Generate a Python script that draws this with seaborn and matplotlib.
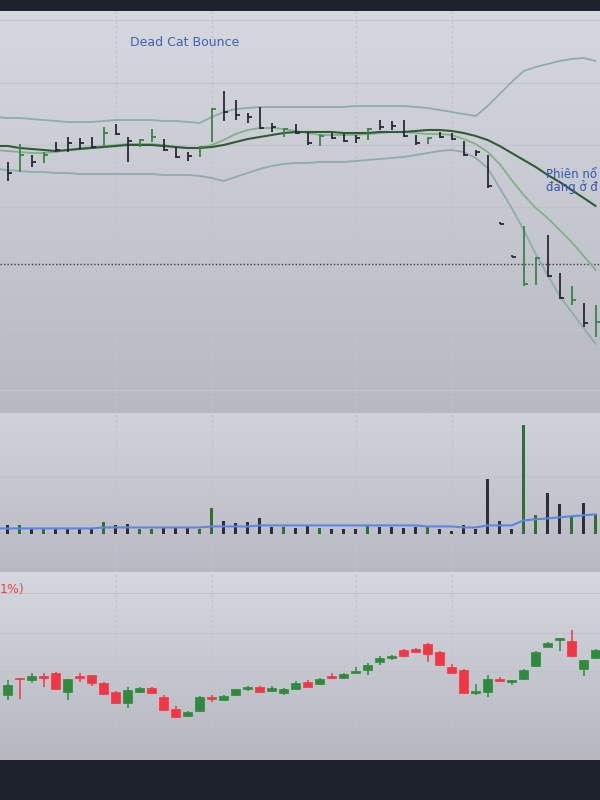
import matplotlib
matplotlib.use("Agg")
import numpy as np
import pandas as pd
import matplotlib.pyplot as plt
import seaborn as sns
from matplotlib.colors import LinearSegmentedColormap

# ---- price panel (HLC bars + bollinger), bars i = -1 .. 49
bar_idx = list(range(-1, 50))
bar_open = [24.4, 24.9, 25.5, 26.2, 26.0, 27.5, 28.0, 27.9, 28.1, 27.5, 29.4, 28.1, 27.4, 28.0, 27.9, 27.1, 26.6,
            26.6, 28.0, 31.5, 31.5, 30.6, 31.0, 29.5, 28.6, 29.4, 28.6, 27.7, 28.6, 28.4, 28.5, 28.1, 29.8, 29.7,
            29.8, 28.3, 27.8, 28.7, 28.6, 27.8, 27.0, 26.2, 19.7, 16.4, 13.4, 13.6, 18.3, 14.5, 11.6, 11.5, 8.5]
bar_high = [24.8, 25.8, 27.6, 26.5, 26.8, 27.8, 28.3, 28.2, 28.3, 29.3, 29.6, 28.3, 28.1, 29.1, 28.1, 27.3, 26.8,
            27.4, 31.2, 32.9, 32.0, 30.7, 31.3, 29.7, 29.2, 29.6, 28.8, 28.6, 28.7, 28.6, 28.5, 29.2, 30.0, 29.9,
            30.0, 28.5, 28.3, 28.8, 28.7, 27.9, 27.0, 26.5, 19.8, 16.5, 19.4, 16.3, 18.5, 14.7, 13.4, 11.7, 11.5]
bar_low = [23.4, 23.9, 24.8, 25.3, 25.7, 26.8, 26.8, 27.1, 27.2, 27.3, 28.5, 25.8, 27.3, 27.8, 26.9, 26.2, 25.9,
           26.3, 27.8, 29.9, 30.0, 29.7, 29.1, 28.8, 28.3, 28.6, 27.5, 27.4, 28.1, 27.8, 27.7, 28.0, 29.0, 29.0,
           28.3, 27.5, 27.6, 28.2, 28.0, 26.4, 26.4, 23.2, 19.6, 16.3, 13.4, 13.5, 14.3, 12.1, 11.5, 9.3, 8.3]
bar_close = [23.7, 24.7, 26.5, 25.8, 26.5, 27.0, 27.7, 27.7, 27.3, 28.7, 28.6, 27.9, 28.0, 28.3, 27.0, 26.3, 26.4,
             27.3, 31.1, 30.8, 30.5, 30.3, 29.2, 29.3, 29.1, 28.7, 27.7, 28.4, 28.2, 27.9, 28.2, 29.1, 29.3, 29.4,
             28.4, 27.7, 28.2, 28.3, 28.1, 26.5, 26.8, 23.4, 19.65, 16.35, 13.6, 16.2, 14.4, 12.2, 12.0, 9.7, 9.8]
bb_upper = [30.3, 30.2, 30.2, 30.1, 30.0, 29.9, 29.8, 29.8, 29.8, 29.9, 30.0, 30.0, 30.0, 30.0, 29.9, 29.9, 29.8,
            29.7, 30.3, 30.8, 31.1, 31.2, 31.3, 31.3, 31.3, 31.3, 31.3, 31.3, 31.3, 31.3, 31.4, 31.4, 31.4, 31.4,
            31.4, 31.3, 31.2, 31.0, 30.8, 30.6, 30.4, 31.4, 32.6, 33.8, 34.9, 35.3, 35.6, 35.9, 36.1, 36.2, 35.9]
bb_lower = [25.1, 25.0, 24.9, 24.8, 24.8, 24.7, 24.7, 24.6, 24.6, 24.6, 24.6, 24.6, 24.6, 24.6, 24.5, 24.5, 24.5,
            24.4, 24.2, 23.9, 24.3, 24.7, 25.1, 25.4, 25.6, 25.7, 25.7, 25.8, 25.8, 25.8, 25.9, 26.0, 26.1, 26.2,
            26.3, 26.5, 26.7, 26.9, 27.0, 26.8, 26.2, 25.2, 23.2, 21.2, 19.0, 16.6, 14.5, 12.4, 10.8, 9.2, 7.6]
bb_basis = [27.4, 27.4, 27.2, 27.1, 27.0, 26.9, 27.0, 27.1, 27.2, 27.3, 27.4, 27.5, 27.5, 27.5, 27.4, 27.3, 27.2,
            27.2, 27.3, 27.5, 27.8, 28.1, 28.3, 28.5, 28.7, 28.8, 28.8, 28.8, 28.8, 28.7, 28.7, 28.7, 28.8, 28.8,
            28.8, 28.9, 29.0, 29.0, 28.9, 28.7, 28.4, 28.0, 27.4, 26.7, 26.0, 25.3, 24.5, 23.8, 23.0, 22.2, 21.4]
fast_ma = [27.0, 26.9, 26.8, 26.7, 26.7, 26.8, 27.0, 27.2, 27.3, 27.4, 27.5, 27.6, 27.6, 27.6, 27.5, 27.3, 27.2,
           27.2, 27.5, 28.0, 28.6, 29.0, 29.2, 29.2, 29.1, 28.9, 28.7, 28.5, 28.5, 28.5, 28.5, 28.6, 28.7, 28.8,
           28.8, 28.7, 28.6, 28.6, 28.5, 28.1, 27.6, 26.8, 25.6, 24.0, 22.5, 21.2, 20.2, 19.0, 17.8, 16.4, 15.0]
price_line = 15.6

# ---- volume panel, i = 0 .. 49
vol_idx = list(range(0, 50))
volume = [400, 400, 250, 250, 250, 250, 250, 250, 550, 400, 450, 200, 200, 250, 250, 250, 200, 1250, 600, 500,
          550, 750, 300, 300, 250, 400, 250, 200, 200, 200, 350, 300, 300, 250, 300, 350, 200, 100, 400, 200,
          2700, 600, 200, 5350, 900, 2000, 1450, 850, 1500, 950]
vol_ma = [250, 250, 250, 250, 250, 250, 250, 250, 250, 300, 300, 300, 300, 300, 300, 300, 300, 300, 350, 350,
          350, 350, 400, 400, 400, 400, 400, 400, 400, 400, 400, 400, 400, 400, 400, 400, 350, 350, 350, 300,
          300, 400, 400, 400, 650, 700, 750, 800, 850, 900, 950]

# ---- lower candle panel, i = 0 .. 49
c_open = [10.5, 12.2, 12.0, 12.35, 12.7, 10.8, 12.35, 12.5, 11.7, 10.8, 9.7, 10.8, 11.2, 10.3, 9.1, 8.4, 8.9,
          10.25, 10.0, 10.5, 11.1, 11.3, 10.9, 10.7, 11.1, 11.8, 11.6, 12.35, 12.2, 12.7, 13.0, 13.8, 14.25, 15.0,
          15.1, 15.6, 14.8, 13.3, 13.0, 10.75, 10.8, 12.1, 11.85, 12.1, 13.4, 15.3, 16.05, 15.9, 13.1, 14.2]
c_high = [12.0, 12.25, 12.7, 12.7, 12.8, 12.1, 12.7, 12.5, 11.8, 10.9, 11.3, 11.3, 11.3, 10.5, 9.4, 8.9, 10.4,
          10.5, 10.5, 11.1, 11.4, 11.4, 11.4, 11.2, 11.9, 12.0, 12.2, 12.7, 12.7, 13.3, 13.7, 14.4, 14.5, 15.1,
          15.2, 15.7, 14.9, 13.6, 13.1, 11.6, 12.5, 12.3, 12.0, 13.1, 14.9, 15.8, 16.2, 17.0, 14.0, 15.1]
c_low = [10.0, 10.1, 11.7, 11.3, 11.0, 10.0, 11.8, 11.4, 10.5, 9.6, 9.2, 10.7, 10.6, 8.9, 8.2, 8.3, 8.8,
         9.8, 9.9, 10.5, 10.9, 10.8, 10.8, 10.5, 11.1, 11.3, 11.5, 12.1, 12.1, 12.7, 12.5, 13.5, 14.0, 14.3,
         14.8, 13.8, 13.4, 12.7, 10.7, 10.5, 10.3, 11.8, 11.5, 12.0, 13.3, 15.3, 14.9, 14.3, 12.4, 14.1]
c_close = [11.5, 12.1, 12.4, 12.25, 11.1, 12.1, 12.25, 11.7, 10.6, 9.7, 11.0, 11.2, 10.7, 9.0, 8.3, 8.8, 10.3,
           10.15, 10.4, 11.1, 11.3, 10.8, 11.2, 11.1, 11.7, 11.3, 12.1, 12.25, 12.6, 12.9, 13.5, 14.2, 14.35, 14.4,
           14.8, 14.6, 13.5, 12.7, 10.7, 10.8, 12.1, 11.9, 11.95, 13.0, 14.8, 15.7, 16.15, 14.4, 14.0, 15.0]

bars = pd.DataFrame({"i": bar_idx, "open": bar_open, "high": bar_high, "low": bar_low, "close": bar_close,
                     "upper": bb_upper, "lower": bb_lower, "basis": bb_basis, "fast": fast_ma})
bars["up"] = bars["close"] >= bars["open"]
vol = pd.DataFrame({"i": vol_idx, "volume": volume})
vol = vol.merge(bars[["i", "up"]], on="i")
vma = pd.DataFrame({"i": bar_idx, "ma": vol_ma})
cdl = pd.DataFrame({"i": vol_idx, "open": c_open, "high": c_high, "low": c_low, "close": c_close})
cdl["up"] = cdl["close"] >= cdl["open"]

sns.set_style("white")
plt.rcParams["font.family"] = ["DejaVu Sans"]

fig = plt.figure(figsize=(6, 8), dpi=100)
fig.patch.set_facecolor("#1e222d")

ax1 = fig.add_axes([0, 0.48375, 1, 0.5025])
ax2 = fig.add_axes([0, 0.285, 1, 0.19875])
ax3 = fig.add_axes([0, 0.05, 1, 0.235])


def pane_bg(ax, top, bottom):
    grad = np.linspace(0, 1, 256).reshape(-1, 1)
    cmap = LinearSegmentedColormap.from_list("bg", [top, bottom])
    ax.imshow(grad, extent=[0, 1, 0, 1], transform=ax.transAxes, aspect="auto",
              cmap=cmap, zorder=0, origin="upper")


XL = (-0.642, 49.36)
vgrid = [9, 17, 29, 37]
grid_c = "#c0c3cb"

# --- pane 1
pane_bg(ax1, "#d6d8df", "#b7b9c0")
for g in [40.0, 33.7, 27.5, 21.3, 15.4, 9.0, 3.0]:
    ax1.axhline(g, color=grid_c, lw=0.8, zorder=1)
for v in vgrid:
    ax1.axvline(v, color=grid_c, lw=0.9, ls=(0, (2, 2)), zorder=1)
ax1.axhline(price_line, color="#3a3d45", lw=1.0, ls=(0, (1, 1.5)), zorder=2)

sns.lineplot(data=bars, x="i", y="upper", ax=ax1, color="#92aba9", lw=1.3, zorder=3)
sns.lineplot(data=bars, x="i", y="lower", ax=ax1, color="#92aba9", lw=1.3, zorder=3)
sns.lineplot(data=bars, x="i", y="fast", ax=ax1, color="#86ad8c", lw=1.3, zorder=3)
sns.lineplot(data=bars, x="i", y="basis", ax=ax1, color="#2f5c35", lw=1.5, zorder=4)

bar_col = np.where(bars["up"], "#3f8148", "#262a33")
ax1.vlines(bars["i"], bars["low"], bars["high"], colors=bar_col, lw=1.3, zorder=5)
ax1.hlines(bars["close"], bars["i"], bars["i"] + 0.38, colors=bar_col, lw=1.3, zorder=5)
ax1.set_xlim(*XL)
ax1.set_ylim(0.7, 40.9)
ax1.set_axis_off()

# --- pane 2 (volume)
pane_bg(ax2, "#d2d3da", "#b9bac1")
ax2.axhline(2850, color=grid_c, lw=0.8, zorder=1)
for v in vgrid:
    ax2.axvline(v, color=grid_c, lw=0.9, ls=(0, (2, 2)), zorder=1)
vcol = np.where(vol["up"], "#2f6f36", "#2b2f3a")
ax2.bar(vol["i"], vol["volume"], width=0.26, color=vcol, edgecolor=vcol, linewidth=0, zorder=3)
sns.lineplot(data=vma, x="i", y="ma", ax=ax2, color="#5a86e8", lw=1.5, zorder=4)
ax2.set_xlim(*XL)
ax2.set_ylim(-1900, 5950)
ax2.set_axis_off()

# --- pane 3 (candles)
pane_bg(ax3, "#d6d8df", "#b6b8bf")
for g in [20.7, 16.7, 12.9, 9.1]:
    ax3.axhline(g, color=grid_c, lw=0.8, zorder=1)
for v in vgrid:
    ax3.axvline(v, ymin=0.176, ymax=1, color=grid_c, lw=0.9, ls=(0, (2, 2)), zorder=1)
ccol = np.where(cdl["up"], "#2f8a3e", "#f23645")
ax3.vlines(cdl["i"], cdl["low"], cdl["high"], colors=ccol, lw=1.1, zorder=3)
body_lo = np.minimum(cdl["open"], cdl["close"])
body_h = np.maximum(np.abs(cdl["close"] - cdl["open"]), 0.12)
ax3.bar(cdl["i"], body_h, bottom=body_lo, width=0.72, color=ccol, edgecolor=ccol, linewidth=0.5, zorder=4)
ax3.set_xlim(*XL)
ax3.set_ylim(4.0, 22.8)
ax3.set_axis_off()

# --- annotations
fig.text(130 / 600, 1 - 43 / 800, "Dead Cat Bounce", color="#3f62b3", fontsize=9, va="center", ha="left")
fig.text(546 / 600, 1 - 174 / 800, "Phiên nổ", color="#3556b0", fontsize=8.5, va="center", ha="left")
fig.text(546 / 600, 1 - 187 / 800, "đang ở đ", color="#3556b0", fontsize=8.5, va="center", ha="left")
fig.text(0 / 600, 1 - 589 / 800, "1%)", color="#e5484d", fontsize=9, va="center", ha="left")

fig.savefig("out.png", dpi=100, facecolor=fig.get_facecolor())
